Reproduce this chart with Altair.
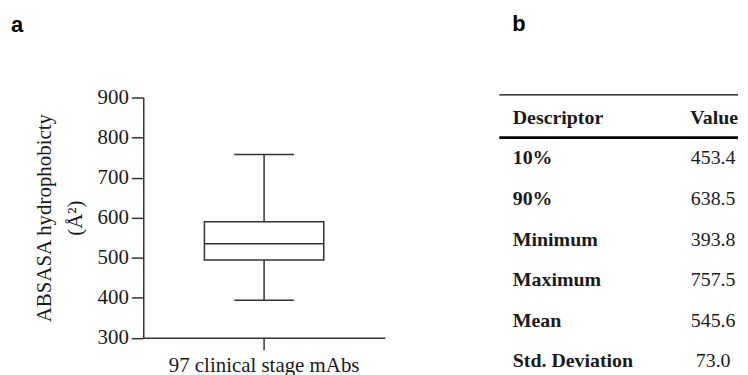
import altair as alt
import pandas as pd

# ---- data ----
group_label = ["97 clinical stage mAbs"]
stat_names = ["min", "q1", "median", "q3", "max"]
stat_values = [393.8, 494.0, 535.0, 590.0, 757.5]

y_ticks = [300, 400, 500, 600, 700, 800, 900]

table_header = ["Descriptor", "Value"]
descriptors = ["10%", "90%", "Minimum", "Maximum", "Mean", "Std. Deviation"]
desc_values = ["453.4", "638.5", "393.8", "757.5", "545.6", "73.0"]

SERIF = "Liberation Serif"
SANS = "Liberation Sans"
LINE = "#333333"
TEXT = "#1a1a1a"
FS = 21

box_df = pd.DataFrame([dict(group=group_label[0], **dict(zip(stat_names, stat_values)))])

x_enc = alt.X(
    "group:N",
    title=None,
    scale=alt.Scale(paddingInner=0, paddingOuter=0),
    axis=alt.Axis(labelAngle=0, tickSize=12, labelPadding=5, labelFont=SERIF,
                  labelFontSize=FS, labelColor=TEXT, domainColor=LINE, tickColor=LINE,
                  domainWidth=1.5, tickWidth=1.5, labelLimit=0),
)
y_axis = alt.Axis(values=y_ticks, tickSize=12, labelPadding=3, labelFont=SERIF,
                  labelFontSize=FS, labelColor=TEXT, domainColor=LINE, tickColor=LINE,
                  domainWidth=1.5, tickWidth=1.5, grid=False,
                  title=["ABSASA hydrophobicty", "(Å²)"], titleFont=SERIF,
                  titleFontSize=FS, titleFontWeight="normal", titleColor=TEXT,
                  titleLineHeight=31, titlePadding=12)
y_scale = alt.Scale(domain=[300, 900], nice=False, zero=False)

base = alt.Chart(box_df)
whisker = base.mark_rule(color=LINE, strokeWidth=1.5).encode(
    x=x_enc, y=alt.Y("min:Q", scale=y_scale, axis=y_axis), y2="max:Q")
box = base.mark_bar(size=120, fill="white", stroke=LINE, strokeWidth=1.5).encode(
    x=x_enc, y=alt.Y("q1:Q", scale=y_scale, axis=y_axis), y2="q3:Q")
median = base.mark_tick(size=120, thickness=1.5, color=LINE, opacity=1).encode(
    x=x_enc, y=alt.Y("median:Q", scale=y_scale, axis=y_axis))
cap_lo = base.mark_tick(size=60, thickness=1.5, color=LINE, opacity=1).encode(
    x=x_enc, y=alt.Y("min:Q", scale=y_scale, axis=y_axis))
cap_hi = base.mark_tick(size=60, thickness=1.5, color=LINE, opacity=1).encode(
    x=x_enc, y=alt.Y("max:Q", scale=y_scale, axis=y_axis))

left = alt.layer(whisker, box, median, cap_lo, cap_hi).properties(
    width=243, height=241.6,
    title=alt.TitleParams("a", anchor="start", frame="group", dx=-133, offset=50,
                          font=SANS, fontSize=22, fontWeight="bold", color="black",
                          baseline="top"),
)

# ---- table panel ----
row_order = [table_header[0]] + descriptors
rows_df = pd.DataFrame({"row": descriptors, "value": desc_values})
head_df = pd.DataFrame({"row": [table_header[0]], "value": [table_header[1]]})
ty = alt.Y("row:N", sort=row_order, axis=None,
           scale=alt.Scale(type="point", domain=row_order, padding=0,
                           range=[20.3, 265.3]))

txt = dict(font=SERIF, fontSize=20, color=TEXT, baseline="middle")
head_desc = alt.Chart(head_df).mark_text(align="left", fontWeight="bold", **txt).encode(
    y=ty, x=alt.value(13.5), text="row:N")
head_val = alt.Chart(head_df).mark_text(align="center", fontWeight="bold", **txt).encode(
    y=ty, x=alt.value(216), text="value:N")
row_desc = alt.Chart(rows_df).mark_text(align="left", fontWeight="bold", **txt).encode(
    y=ty, x=alt.value(13.5), text="row:N")
row_val = alt.Chart(rows_df).mark_text(align="center", fontWeight="normal", **txt).encode(
    y=ty, x=alt.value(215), text="value:N")

one = alt.Chart(pd.DataFrame({"r": [0]}))
top_rule = one.mark_rule(color="black", strokeWidth=1.2).encode(
    y=alt.value(-2.7), x=alt.value(0), x2=alt.value(240))
head_rule = one.mark_rule(color="black", strokeWidth=2.6).encode(
    y=alt.value(40.3), x=alt.value(0), x2=alt.value(240))

right = alt.layer(top_rule, head_rule, head_desc, head_val, row_desc, row_val).properties(
    width=240, height=268,
    title=alt.TitleParams("b", anchor="start", frame="group", dx=13, offset=58.7,
                          font=SANS, fontSize=22, fontWeight="bold", color="black",
                          baseline="top"),
)

chart = alt.hconcat(left, right, spacing=113).properties(
    padding={"left": 3, "top": 4, "right": 0, "bottom": 0}
).configure_view(stroke=None).configure_axis(
    labelFont=SERIF, titleFont=SERIF
).configure_text(font=SERIF)

chart.save("out.html", embed_options={"renderer": "svg", "actions": False})
